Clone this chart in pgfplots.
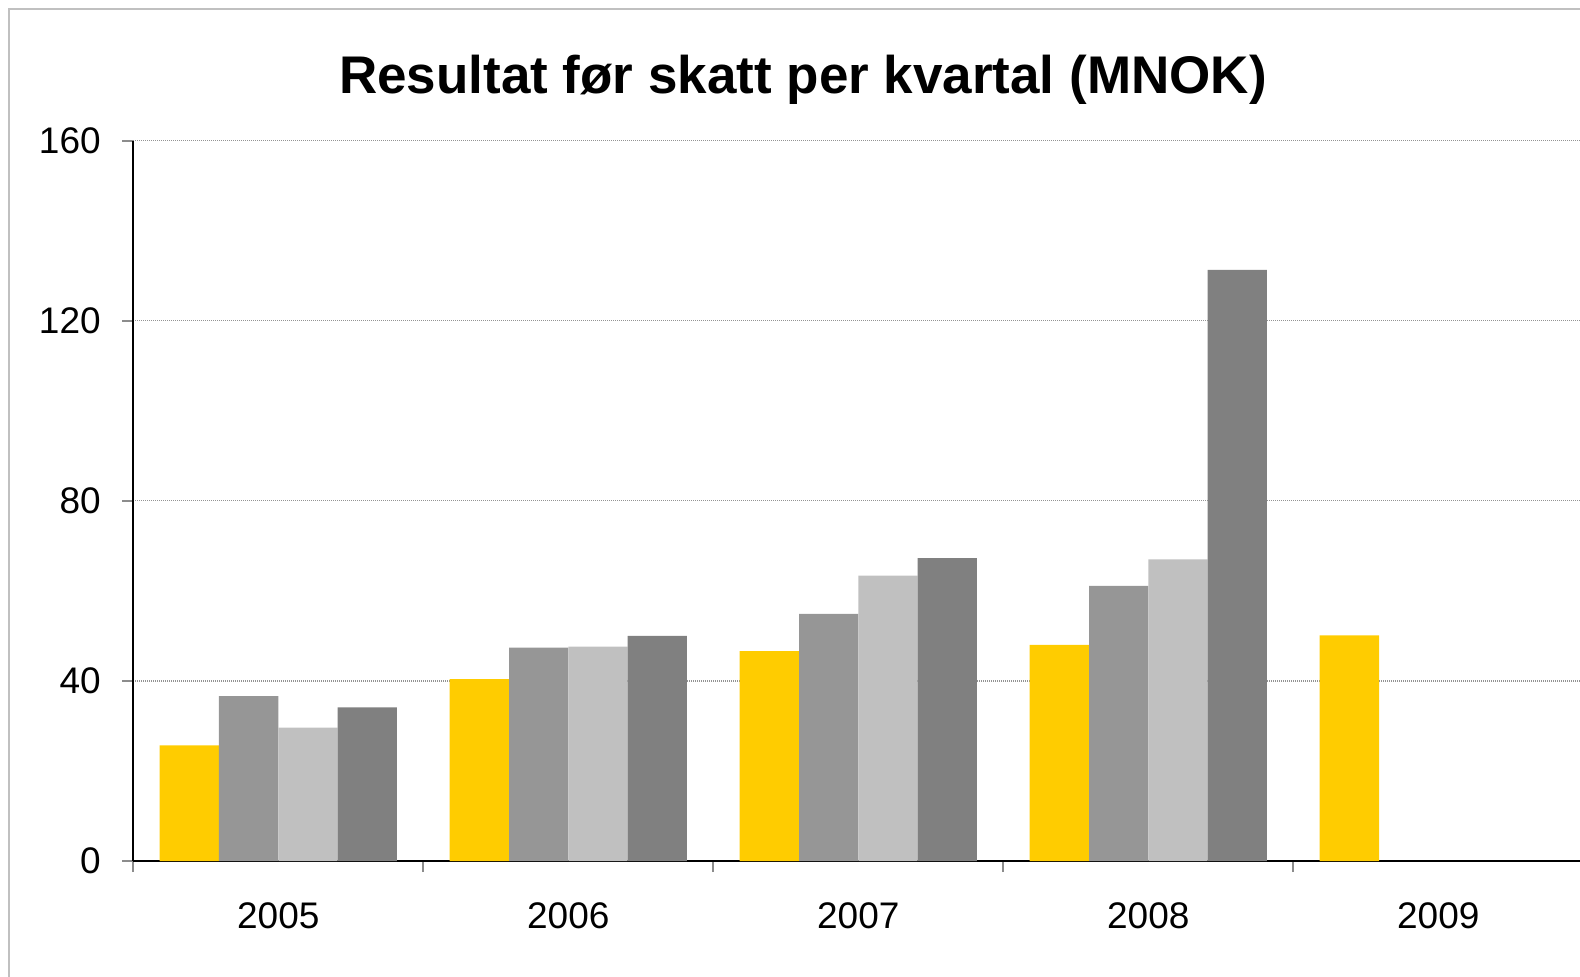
\documentclass[border=0pt]{standalone}
\usepackage{fontspec}
\setmainfont{Liberation Sans}
\usepackage{pgfplots}
\pgfplotsset{compat=1.18}

\definecolor{qone}{HTML}{FFCC00}
\definecolor{qtwo}{HTML}{969696}
\definecolor{qthree}{HTML}{C0C0C0}
\definecolor{qfour}{HTML}{808080}
\definecolor{framegray}{HTML}{C0C0C0}

\begin{document}
\begin{tikzpicture}
  % page = 1580 x 976 px, 1 px = 0.5pt, axis box lower left at (0,0)
  \useasboundingbox (-66.65pt,-57.5pt) rectangle (723.35pt,430.5pt);

  \begin{axis}[
      at={(0pt,0pt)}, anchor=south west,
      scale only axis,
      width=725pt, height=360.15pt,
      xmin=-0.5, xmax=4.5,
      ymin=0, ymax=160,
      axis lines*=left,
      axis line style={black, line width=0.8pt},
      ybar=0pt, bar width=29.65pt,
      xtick={-0.5,0.5,1.5,2.5,3.5,4.5},
      x tick label as interval,
      xticklabels={2005,2006,2007,2008,2009},
      ytick={0,40,80,120,160},
      tick align=outside,
      major tick length=5.5pt,
      tick style={gray!90, line width=1pt},
      ymajorgrids,
      major grid style={gray!85, line width=0.6pt, dash pattern=on 0.6pt off 0.4pt},
      /pgf/number format/assume math mode=true,
      ticklabel style={font=\fontsize{18.5}{22}\selectfont},
      yticklabel style={anchor=east, inner sep=0pt, xshift=-10.6pt},
      xticklabel style={anchor=base, inner sep=0pt, yshift=-28pt},
    ]
    % Q1
    \addplot[fill=qone, draw=none] coordinates {(0,25.7) (1,40.4) (2,46.6) (3,48.0) (4,50.1)};
    % Q2
    \addplot[fill=qtwo, draw=none] coordinates {(0,36.6) (1,47.4) (2,54.9) (3,61.1)};
    % Q3
    \addplot[fill=qthree, draw=none] coordinates {(0,29.6) (1,47.6) (2,63.4) (3,67.0)};
    % Q4
    \addplot[fill=qfour, draw=none] coordinates {(0,34.1) (1,50.0) (2,67.3) (3,131.3)};
  \end{axis}

  \node[anchor=base, inner sep=0pt, font=\bfseries\fontsize{26.5}{30}\selectfont]
    at (334.8pt,383.65pt) {Resultat før skatt per kvartal (MNOK)};

  \draw[framegray, line width=1.2pt] (-62pt,-70pt) -- (-62pt,425.85pt) -- (740pt,425.85pt);
\end{tikzpicture}
\end{document}
